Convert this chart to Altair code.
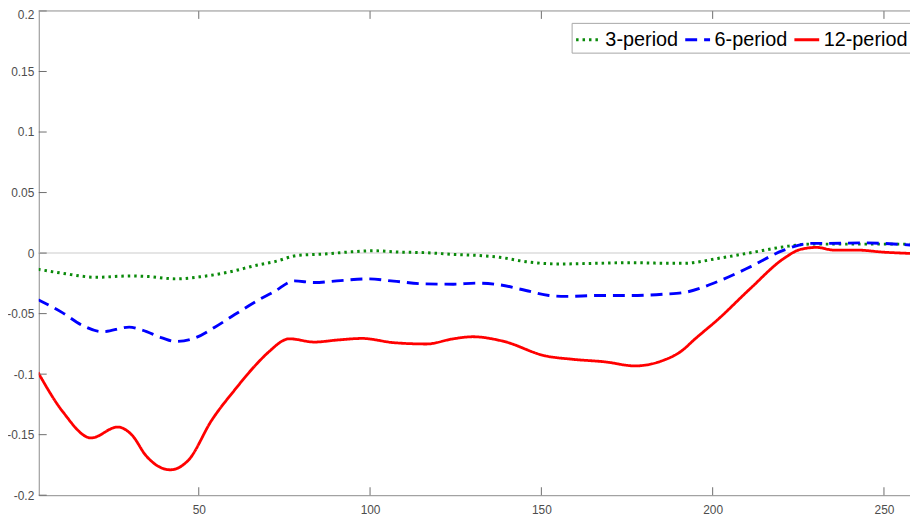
import altair as alt
import pandas as pd

# ---- data ----
series_names = ["3-period", "6-period", "12-period"]
series_colors = ["#0a8a0a", "#0000ff", "#ff0000"]

x_3 = [3.1, 10.3, 20.0, 29.7, 35.4, 43.2, 50.9, 58.6, 67.3, 72.1, 78.9, 86.6, 93.4, 101.1,
       108.8, 116.5, 124.3, 131.0, 137.8, 145.5, 155.1, 166.7, 176.4, 186.0, 191.8, 201.5,
       211.1, 220.8, 228.5, 238.2, 247.8, 257.8]
y_3 = [-0.0134, -0.0167, -0.0200, -0.0189, -0.0194, -0.0213, -0.0194, -0.0158, -0.0098,
       -0.0071, -0.0019, -0.0008, 0.0008, 0.0019, 0.0008, 0.0003, -0.0011, -0.0019, -0.0035,
       -0.0071, -0.0090, -0.0084, -0.0079, -0.0084, -0.0084, -0.0044, 0.0003, 0.0052, 0.0074,
       0.0074, 0.0074, 0.0074]

x_6 = [3.1, 10.3, 16.1, 21.9, 29.7, 33.5, 39.3, 43.2, 49.0, 54.8, 60.5, 67.3, 72.1, 77.9,
       83.7, 91.4, 99.2, 106.9, 115.6, 124.3, 131.0, 137.8, 145.5, 152.2, 157.1, 166.7, 176.4,
       186.0, 191.8, 201.5, 211.1, 220.8, 228.5, 233.3, 243.9, 257.8]
y_6 = [-0.0385, -0.0494, -0.0598, -0.0650, -0.0612, -0.0637, -0.0700, -0.0730, -0.0700,
       -0.0610, -0.0508, -0.0390, -0.0317, -0.0230, -0.0243, -0.0227, -0.0213, -0.0232,
       -0.0254, -0.0257, -0.0248, -0.0262, -0.0309, -0.0350, -0.0358, -0.0350, -0.0350,
       -0.0339, -0.0325, -0.0235, -0.0112, 0.0025, 0.0080, 0.0080, 0.0084, 0.0066]

x_12 = [3.1, 10.3, 18.6, 26.3, 30.6, 34.5, 41.7, 47.0, 53.8, 60.5, 67.3, 70.2, 76.5, 83.7,
        90.5, 97.7, 106.9, 116.5, 124.3, 130.0, 138.7, 151.3, 159.0, 168.7, 177.3, 185.1,
        190.9, 194.7, 201.5, 211.1, 220.8, 225.6, 230.4, 235.3, 242.0, 249.7, 257.8]
y_12 = [-0.0986, -0.1310, -0.1527, -0.1437, -0.1506, -0.1670, -0.1790, -0.1710, -0.1380,
        -0.1130, -0.0904, -0.0822, -0.0708, -0.0735, -0.0718, -0.0705, -0.0740, -0.0751,
        -0.0708, -0.0691, -0.0727, -0.0850, -0.0877, -0.0899, -0.0932, -0.0891, -0.0809,
        -0.0713, -0.0549, -0.0290, -0.0044, 0.0030, 0.0047, 0.0025, 0.0025, 0.0008, -0.0003]

x_ticks = [50, 100, 150, 200, 250]
y_ticks = [-0.2, -0.15, -0.1, -0.05, 0, 0.05, 0.1, 0.15, 0.2]
zero_line = [0]

x_domain = [3.3, 257.6]
y_domain = [-0.2, 0.2]

W, H = 878, 488

rows = []
for name, xs, ys in [("3-period", x_3, y_3), ("6-period", x_6, y_6), ("12-period", x_12, y_12)]:
    for i, (a, b) in enumerate(zip(xs, ys)):
        rows.append({"series": name, "x": a, "y": b, "order": i})
df = pd.DataFrame(rows)

xs_scale = alt.Scale(domain=x_domain, nice=False, zero=False)
ys_scale = alt.Scale(domain=y_domain, nice=False, zero=False)

axis_color = "#8c8c8c"
label_color = "#4d4d4d"
font = "Liberation Sans"

x_axis = alt.Axis(values=x_ticks, ticks=False, labelPadding=9, grid=False, title=None,
                  domainColor=axis_color, labelColor=label_color, labelFont=font,
                  labelFontSize=12, labelFlush=False, labelOverlap=False)
y_axis = alt.Axis(values=y_ticks, ticks=False, labelPadding=5, grid=False, title=None,
                  domainColor=axis_color, labelColor=label_color, labelFont=font,
                  labelFontSize=12, labelFlush=False, labelOverlap=False,
                  labelOffset={"condition": {"test": "datum.value > 0.19", "value": 4},
                               "value": 0},
                  labelExpr="datum.value == 0 ? '0' : (datum.value < 0 ? '-' : '') + format(abs(datum.value), '~g')")

legend = alt.Legend(orient="none", legendX=537, legendY=12,
                    direction="horizontal", columns=3, title=None,
                    symbolType="stroke", symbolSize=625,
                    symbolStrokeWidth=2.5, labelFontSize=20,
                    labelFont=font, labelColor="black", labelOffset=3,
                    columnPadding=0, padding=3,
                    strokeColor="#a6a6a6", fillColor="white")

zero = alt.Chart(pd.DataFrame({"v": zero_line})).mark_rule(
    color="#dcdcdc", strokeWidth=1.5
).encode(y=alt.Y("v:Q", scale=ys_scale, axis=y_axis, title=None))

lines = alt.Chart(df).mark_line(interpolate="monotone", clip=True).encode(
    x=alt.X("x:Q", scale=xs_scale, axis=x_axis, title=None),
    y=alt.Y("y:Q", scale=ys_scale, axis=y_axis, title=None),
    color=alt.Color("series:N",
                    scale=alt.Scale(domain=series_names, range=series_colors),
                    legend=legend),
    strokeDash=alt.StrokeDash("series:N",
                              scale=alt.Scale(domain=series_names,
                                              range=[[2.5, 4], [12, 7], [1, 0]]),
                              legend=legend),
    strokeWidth=alt.StrokeWidth("series:N",
                                scale=alt.Scale(domain=series_names, range=[3, 2.8, 2.5]),
                                legend=None),
    order="order:Q",
)

xt = pd.DataFrame({"v": x_ticks})
yt = pd.DataFrame({"v": y_ticks})
tick_color = "#6e6e6e"
xtick_bottom = alt.Chart(xt).mark_rule(color=tick_color, strokeWidth=1).encode(
    x=alt.X("v:Q", scale=xs_scale, axis=x_axis, title=None), y=alt.value(H), y2=alt.value(H - 8))
xtick_top = alt.Chart(xt).mark_rule(color=tick_color, strokeWidth=1).encode(
    x=alt.X("v:Q", scale=xs_scale, axis=x_axis, title=None), y=alt.value(0), y2=alt.value(8))
ytick_left = alt.Chart(yt).mark_rule(color=tick_color, strokeWidth=1).encode(
    y=alt.Y("v:Q", scale=ys_scale, axis=y_axis, title=None), x=alt.value(0), x2=alt.value(8))
top_border = alt.Chart(pd.DataFrame({"v": zero_line})).mark_rule(
    color=axis_color, strokeWidth=1).encode(x=alt.value(0), x2=alt.value(W), y=alt.value(0))

chart = alt.layer(zero, lines, xtick_bottom, xtick_top, ytick_left, top_border).properties(
    width=W, height=H,
    autosize=alt.AutoSizeParams(type="none"),
    padding={"left": 31, "top": 1, "right": 0, "bottom": 22},
).configure_view(stroke=None)

chart.save("out.html", embed_options={"renderer": "svg", "actions": False})
